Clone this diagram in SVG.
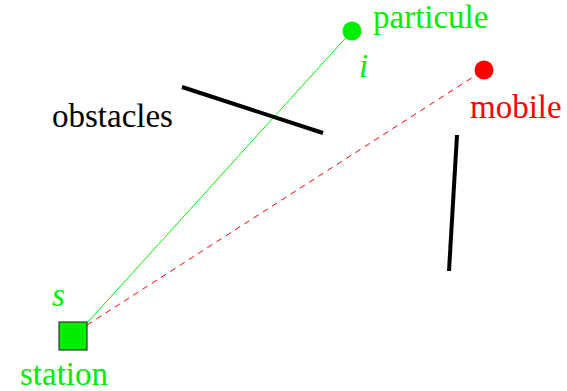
<svg xmlns="http://www.w3.org/2000/svg" width="567" height="391" viewBox="0 0 567 391">
<style>
.obs{stroke:#000;stroke-width:4}
text{font-family:"Liberation Serif","Times New Roman",serif !important;font-size:33px}
</style>
<rect width="567" height="391" fill="#fff"/>
<g id="connectors">
<line x1="87" y1="323" x2="352" y2="31" stroke="#00ee00" stroke-width="1"/>
<line x1="87" y1="325" x2="484" y2="70" stroke="#ff0000" stroke-width="1" stroke-dasharray="6,5"/>
</g>
<g id="obstacles">
<line class="obs" x1="182" y1="87" x2="323" y2="133"/>
<line class="obs" x1="457" y1="135" x2="449" y2="271"/>
<text style="font-family:'Liberation Serif',serif !important" fill="#000" x="52" y="127">obstacles</text>
</g>
<g id="particule">
<circle cx="352" cy="31" r="9.5" fill="#00ee00"/>
<text style="font-family:'Liberation Serif',serif !important" fill="#00ee00" x="373" y="28">particule</text>
<text style="font-family:'Liberation Serif',serif !important" fill="#00ee00" font-style="italic" x="359" y="77">i</text>
</g>
<g id="mobile">
<circle cx="484" cy="70" r="9.5" fill="#ff0000"/>
<text style="font-family:'Liberation Serif',serif !important" fill="#ff0000" x="470" y="118">mobile</text>
</g>
<g id="station">
<rect x="59" y="322" width="28" height="28" fill="#00ee00" stroke="#333" stroke-width="1.2"/>
<text style="font-family:'Liberation Serif',serif !important" fill="#00ee00" font-style="italic" x="52" y="306">s</text>
<text style="font-family:'Liberation Serif',serif !important" fill="#00ee00" x="20" y="385">station</text>
</g>
</svg>
